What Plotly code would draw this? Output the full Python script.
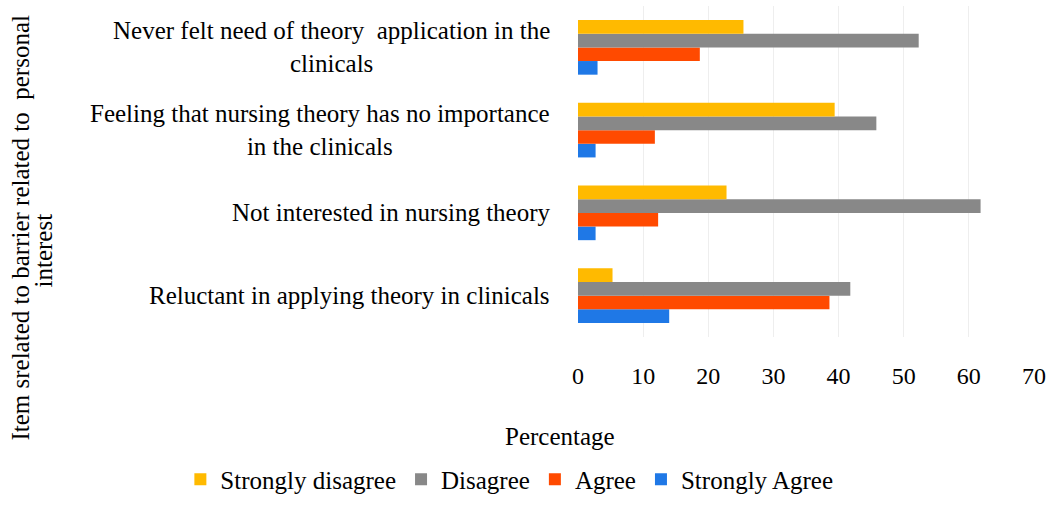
import plotly.graph_objects as go

# categories bottom -> top (plotly order)
ITENS = [
    "Reluctant in applying theory in clinicals",
    "Not interested in nursing theory",
    "Feeling that nursing theory has no importance<br>in the clinicals",
    "Never felt need of theory  application in the<br>clinicals",
]
strongly_agree = [14.0, 2.7, 2.7, 3.0]
agree = [38.6, 12.3, 11.8, 18.7]
disagree = [41.8, 61.8, 45.8, 52.3]
strongly_disagree = [5.3, 22.8, 39.4, 25.4]

SERIES = [
    ("Strongly Agree", strongly_agree, "#1f78e6"),
    ("Agree", agree, "#ff4a00"),
    ("Disagree", disagree, "#888888"),
    ("Strongly disagree", strongly_disagree, "#ffba00"),
]
TICKS_X = [0, 10, 20, 30, 40, 50, 60, 70]

FONTE = "Liberation Serif, Times New Roman, serif"

fig = go.Figure()
for nome, vals, cor in SERIES:
    fig.add_trace(
        go.Bar(
            y=ITENS,
            x=vals,
            name=nome,
            orientation="h",
            marker=dict(color=cor, line_width=0),
        )
    )

fig.update_layout(
    width=1052,
    height=508,
    barmode="group",
    bargap=0.34,
    bargroupgap=0,
    paper_bgcolor="#ffffff",
    plot_bgcolor="#ffffff",
    font=dict(family=FONTE, color="#000000", size=25),
    margin=dict(l=578, r=14, t=6, b=168),
    showlegend=True,
    legend=dict(
        orientation="h",
        traceorder="reversed",
        x=-0.872,
        y=-0.5,
        xanchor="left",
        yanchor="bottom",
        font=dict(size=25),
        itemwidth=30,
    ),
)

fig.update_xaxes(
    range=[0, 70],
    tickvals=TICKS_X,
    showgrid=True,
    gridcolor="#eeeeee",
    zeroline=False,
    showline=False,
    ticks="",
    ticklabelstandoff=22,
    tickfont=dict(size=24),
)
fig.update_yaxes(showticklabels=False, showgrid=False, zeroline=False)

for item in ITENS:
    fig.add_annotation(
        x=-0.058,
        xref="paper",
        y=item,
        yref="y",
        text=item,
        xanchor="right",
        yanchor="middle",
        align="center",
        showarrow=False,
    )

fig.add_annotation(
    x=-0.039, y=-0.30, xref="paper", yref="paper",
    xanchor="center", yanchor="middle",
    text="Percentage", showarrow=False,
)
# titulo do eixo y em duas linhas
fig.add_annotation(
    x=-1.222, y=0.33, xref="paper", yref="paper",
    xanchor="center", yanchor="middle",
    text="Item srelated to barrier related to  personal",
    textangle=-90, showarrow=False,
)
fig.add_annotation(
    x=-1.172, y=0.26, xref="paper", yref="paper",
    xanchor="center", yanchor="middle",
    text="interest",
    textangle=-90, showarrow=False,
)

fig.write_html(
    "out.html",
    config={"displayModeBar": False},
    post_script="document.body.style.margin='0';",
)
